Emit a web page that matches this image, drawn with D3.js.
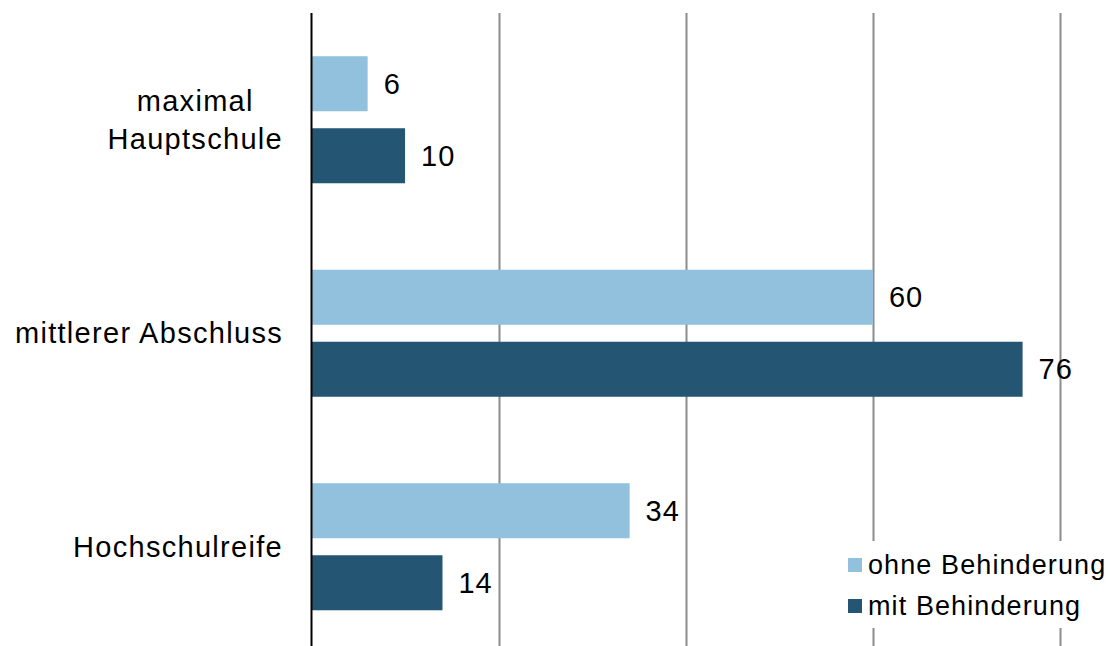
<!DOCTYPE html>
<html>
<head>
<meta charset="utf-8">
<script src="https://cdn.jsdelivr.net/npm/d3@7/dist/d3.min.js"></script>
<style>
  html, body { margin: 0; padding: 0; background: #fff; }
  svg { display: block; font-family: Arial, "Liberation Sans", sans-serif; }
</style>
</head>
<body>
<svg id="chart" width="1110" height="646"></svg>
<script>
// Schulabschluss nach Behinderungsstatus (in %)
const categories = ["maximal\nHauptschule", "mittlerer Abschluss", "Hochschulreife"];
const seriesNames = ["ohne Behinderung", "mit Behinderung"];
const ohneBehinderung = [6, 60, 34];
const mitBehinderung = [10, 76, 14];
const xTicks = [0, 20, 40, 60, 80];
const colors = ["#92c1de", "#245673"];

const W = 1110, H = 646;
const svg = d3.select("#chart");

const x = d3.scaleLinear().domain([0, 80]).range([311.5, 1060]);
const y = d3.scaleBand().domain(categories).range([13, 653.5])
  .paddingInner(0.405).paddingOuter(0.2025);
const sub = d3.scaleBand().domain(seriesNames).range([0, y.bandwidth()])
  .paddingInner(0.236).paddingOuter(0);

const rows = categories.map((c, i) => ({ cat: c, vals: [ohneBehinderung[i], mitBehinderung[i]] }));

// vertical gridlines
svg.append("g")
  .selectAll("line")
  .data(xTicks.slice(1))
  .join("line")
  .attr("x1", d => Math.round(x(d)) + 0.5)
  .attr("x2", d => Math.round(x(d)) + 0.5)
  .attr("y1", 13)
  .attr("y2", H)
  .attr("stroke", "#8c8c8c")
  .attr("stroke-width", 2);

// bars
const groups = svg.append("g").selectAll("g")
  .data(rows)
  .join("g")
  .attr("transform", d => `translate(0,${y(d.cat)})`);

groups.selectAll("rect")
  .data(d => d.vals.map((v, j) => ({ key: seriesNames[j], v, j })))
  .join("rect")
  .attr("x", x(0))
  .attr("y", d => sub(d.key))
  .attr("width", d => x(d.v) - x(0))
  .attr("height", sub.bandwidth())
  .attr("fill", d => colors[d.j]);

// value labels
groups.selectAll("text")
  .data(d => d.vals.map((v, j) => ({ key: seriesNames[j], v, j })))
  .join("text")
  .attr("x", d => x(d.v) + 16)
  .attr("y", d => sub(d.key) + sub.bandwidth() / 2)
  .attr("dy", "0.35em")
  .attr("font-size", 29)
  .attr("letter-spacing", 1)
  .attr("fill", "#000")
  .text(d => d.v);

// category labels: block right-aligned to the axis, lines centred within the block
const labelRight = 283;
svg.append("g").selectAll("text")
  .data(categories)
  .join("text")
  .attr("font-size", 29)
  .attr("letter-spacing", 1.3)
  .attr("fill", "#000")
  .each(function (d) {
    const lines = d.split("\n");
    const cy = y(d) + y.bandwidth() / 2;
    const lh = 38;
    const t = d3.select(this);
    const spans = lines.map((ln, k) =>
      t.append("tspan")
        .attr("y", cy + (k - (lines.length - 1) / 2) * lh)
        .attr("dy", "0.35em")
        .text(ln));
    const widths = spans.map(s => s.node().getComputedTextLength());
    const maxW = d3.max(widths);
    spans.forEach(s => s.attr("text-anchor", "middle").attr("x", labelRight - maxW / 2));
  });

// axis line
svg.append("line")
  .attr("x1", x(0)).attr("x2", x(0))
  .attr("y1", 13).attr("y2", H)
  .attr("stroke", "#000")
  .attr("stroke-width", 2);

// legend
const legend = svg.append("g");
legend.append("rect")
  .attr("x", 840).attr("y", 541)
  .attr("width", 270).attr("height", 87)
  .attr("fill", "#fff");
const items = legend.selectAll("g")
  .data(seriesNames)
  .join("g")
  .attr("transform", (d, i) => `translate(848,${565 + i * 41})`);
items.append("rect")
  .attr("x", 0).attr("y", -7)
  .attr("width", 14).attr("height", 14)
  .attr("fill", (d, i) => colors[i]);
items.append("text")
  .attr("x", 20)
  .attr("dy", "0.35em")
  .attr("font-size", 27)
  .attr("letter-spacing", 1.1)
  .attr("fill", "#000")
  .text(d => d);
</script>
</body>
</html>
